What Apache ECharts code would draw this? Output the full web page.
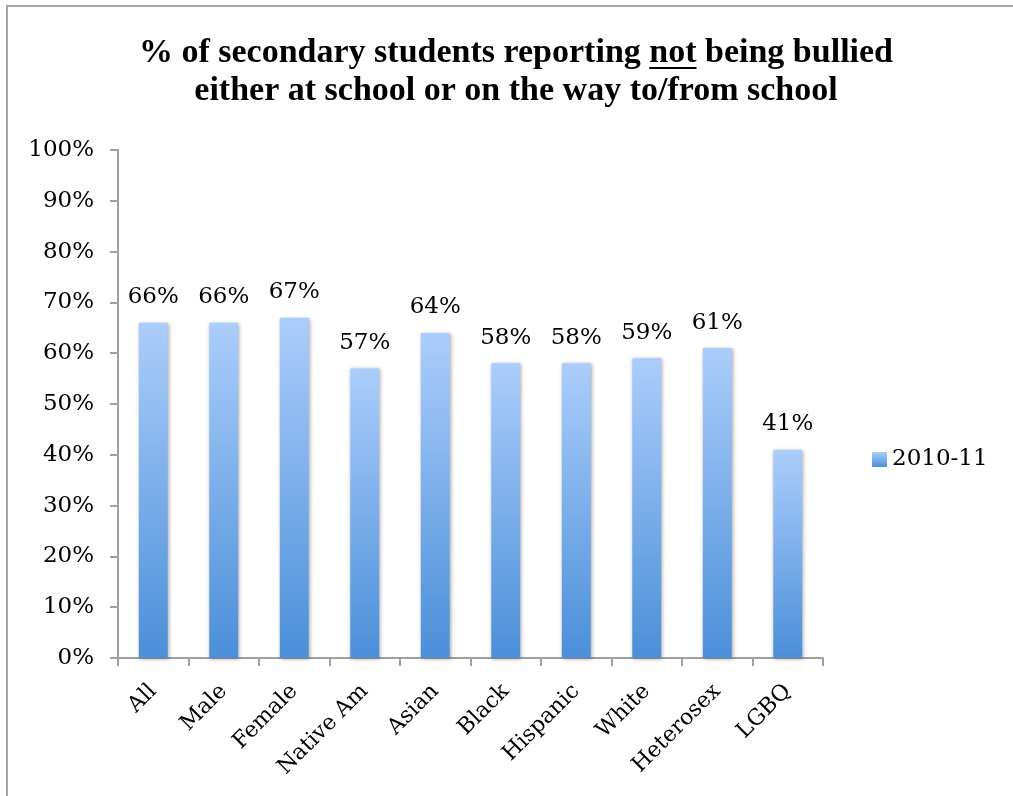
<!DOCTYPE html>
<html>
<head>
<meta charset="utf-8">
<script src="https://cdn.jsdelivr.net/npm/echarts@6/dist/echarts.min.js"></script>
<style>
  html, body { margin: 0; padding: 0; background: #ffffff; }
  #chart { width: 1013px; height: 796px; }
</style>
</head>
<body>
<div id="chart"></div>
<script>
// Survey results by student group
const categories = ['All', 'Male', 'Female', 'Native Am', 'Asian', 'Black', 'Hispanic', 'White', 'Heterosex', 'LGBQ'];
const seriesName = '2010-11';
const values = [66, 66, 67, 57, 64, 58, 58, 59, 61, 41];

const titleLine1Before = '% of secondary students reporting ';
const titleEmphasis = 'not';
const titleLine1After = ' being bullied';
const titleLine2 = 'either at school or on the way to/from school';

const serif = '"DejaVu Serif", serif';
const titleFont = '"Liberation Serif", "Times New Roman", serif';
const titleSize = 34;
const titleLineHeight = 38;
const titleCenterX = 516;
const titleTop = 34;

// Measure the emphasised word so its underline sits right under it
const ctx = document.createElement('canvas').getContext('2d');
ctx.font = 'bold ' + titleSize + 'px ' + titleFont;
const line1 = titleLine1Before + titleEmphasis + titleLine1After;
const lineW = ctx.measureText(line1).width;
const preW = ctx.measureText(titleLine1Before).width;
const empW = ctx.measureText(titleEmphasis).width;
const ulX1 = titleCenterX - lineW / 2 + preW;
const ulX2 = ulX1 + empW;
const ulY = titleTop + 34;

const chart = echarts.init(document.getElementById('chart'), null, { renderer: 'canvas' });

const barGradient = new echarts.graphic.LinearGradient(0, 0, 0, 1, [
  { offset: 0, color: '#abcdfb' },
  { offset: 1, color: '#4b8fd9' }
]);

chart.setOption({
  backgroundColor: '#ffffff',
  animation: false,
  title: {
    text: line1 + '\n' + titleLine2,
    left: titleCenterX,
    top: titleTop,
    padding: 0,
    textAlign: 'center',
    textStyle: {
      fontFamily: titleFont,
      fontWeight: 'bold',
      fontSize: titleSize,
      lineHeight: titleLineHeight,
      color: '#000000'
    }
  },
  graphic: [
    {
      type: 'rect',
      shape: { x: 7, y: 6, width: 1200, height: 1000 },
      style: { fill: 'none', stroke: '#a6a6a6', lineWidth: 2 },
      silent: true
    },
    {
      type: 'line',
      shape: { x1: ulX1, y1: ulY, x2: ulX2, y2: ulY },
      style: { stroke: '#000000', lineWidth: 2 },
      silent: true
    }
  ],
  legend: {
    data: [seriesName],
    left: 872,
    top: 448,
    padding: 0,
    icon: 'rect',
    itemWidth: 15,
    itemHeight: 15,
    itemGap: 10,
    textStyle: { fontFamily: serif, fontSize: 23, color: '#000000' }
  },
  grid: {
    left: 118,
    right: 190,
    top: 150,
    bottom: 138,
    containLabel: false
  },
  xAxis: {
    type: 'category',
    data: categories,
    boundaryGap: true,
    axisLine: { show: true, lineStyle: { color: '#a0a0a0', width: 2 } },
    axisTick: { show: true, length: 8, lineStyle: { color: '#a0a0a0', width: 2 } },
    axisLabel: {
      rotate: 45,
      margin: 30,
      fontFamily: serif,
      fontSize: 22,
      color: '#000000',
      interval: 0
    },
    splitLine: { show: false }
  },
  yAxis: {
    type: 'value',
    min: 0,
    max: 100,
    interval: 10,
    axisLine: { show: true, lineStyle: { color: '#a0a0a0', width: 2 } },
    axisTick: { show: true, length: 8, lineStyle: { color: '#a0a0a0', width: 2 } },
    axisLabel: {
      formatter: '{value}%',
      margin: 24,
      fontFamily: serif,
      fontSize: 23,
      color: '#000000'
    },
    splitLine: { show: false }
  },
  series: [
    {
      name: seriesName,
      type: 'bar',
      data: values,
      barWidth: '41%',
      itemStyle: {
        color: barGradient,
        shadowColor: 'rgba(0,0,0,0.35)',
        shadowBlur: 4,
        shadowOffsetX: 1,
        shadowOffsetY: 1
      },
      label: {
        show: true,
        position: 'top',
        distance: 14,
        formatter: '{c}%',
        fontFamily: serif,
        fontSize: 23,
        color: '#000000'
      }
    }
  ]
});
</script>
</body>
</html>
